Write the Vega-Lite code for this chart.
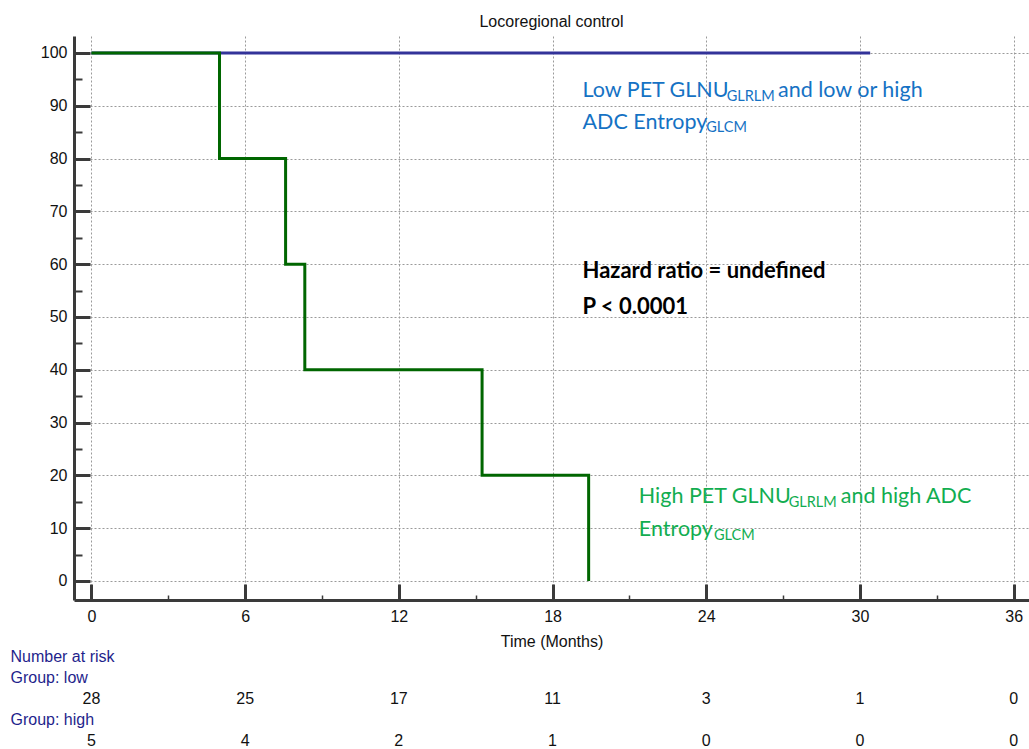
{
  "$schema": "https://vega.github.io/schema/vega-lite/v6.json",
  "padding": {"left": 10, "top": 14, "right": 0, "bottom": 0},
  "bounds": "flush",
  "spacing": 46,
  "config": {
    "view": {"stroke": null},
    "font": "Liberation Sans",
    "axis": {
      "domainColor": "#3a3a3a",
      "domainWidth": 3,
      "tickColor": "#3a3a3a",
      "gridColor": "#9a9a9a",
      "gridDash": [2, 2],
      "gridWidth": 1,
      "labelFont": "Liberation Sans",
      "labelFontSize": 16,
      "labelColor": "#111111",
      "titleFont": "Liberation Sans",
      "titleFontSize": 16,
      "titleFontWeight": "normal",
      "titleColor": "#111111"
    }
  },
  "resolve": {"scale": {"x": "independent", "y": "independent"}},
  "datasets": {
    "survival": [
      {"group": "low", "months": 0, "pct": 100},
      {"group": "low", "months": 30.4, "pct": 100},
      {"group": "high", "months": 0, "pct": 100},
      {"group": "high", "months": 5.0, "pct": 80},
      {"group": "high", "months": 7.58, "pct": 60},
      {"group": "high", "months": 8.33, "pct": 40},
      {"group": "high", "months": 15.25, "pct": 20},
      {"group": "high", "months": 19.41, "pct": 0}
    ],
    "notes": [
      {"kind": "low", "label": "Low PET GLNU", "months": 19.17, "pct": 91.7},
      {"kind": "low-sub", "label": "GLRLM", "months": 24.8, "pct": 90.9},
      {"kind": "low", "label": "and low or high", "months": 26.8, "pct": 91.7},
      {"kind": "low", "label": "ADC Entropy", "months": 19.17, "pct": 85.6},
      {"kind": "low-sub", "label": "GLCM", "months": 24.0, "pct": 85.0},
      {"kind": "stat", "label": "Hazard ratio = undefined", "months": 19.17, "pct": 57.4},
      {"kind": "stat", "label": "P < 0.0001", "months": 19.17, "pct": 50.5},
      {"kind": "high", "label": "High PET GLNU", "months": 21.37, "pct": 14.8},
      {"kind": "high-sub", "label": "GLRLM", "months": 27.22, "pct": 14.0},
      {"kind": "high", "label": "and high ADC", "months": 29.25, "pct": 14.8},
      {"kind": "high", "label": "Entropy", "months": 21.37, "pct": 8.5},
      {"kind": "high-sub", "label": "GLCM", "months": 24.3, "pct": 7.7}
    ],
    "atrisk": [
      {"row": "low", "months": 0, "n": 28},
      {"row": "low", "months": 6, "n": 25},
      {"row": "low", "months": 12, "n": 17},
      {"row": "low", "months": 18, "n": 11},
      {"row": "low", "months": 24, "n": 3},
      {"row": "low", "months": 30, "n": 1},
      {"row": "low", "months": 36, "n": 0},
      {"row": "high", "months": 0, "n": 5},
      {"row": "high", "months": 6, "n": 4},
      {"row": "high", "months": 12, "n": 2},
      {"row": "high", "months": 18, "n": 1},
      {"row": "high", "months": 24, "n": 0},
      {"row": "high", "months": 30, "n": 0},
      {"row": "high", "months": 36, "n": 0}
    ]
  },
  "vconcat": [
    {
      "width": 955,
      "height": 564,
      "title": {
        "text": "Locoregional control",
        "font": "Liberation Sans",
        "fontSize": 16,
        "fontWeight": "normal",
        "color": "#111111",
        "offset": 6
      },
      "encoding": {
        "x": {
          "field": "months",
          "type": "quantitative",
          "scale": {"domain": [-0.68, 36.6], "nice": false, "zero": false},
          "axis": {
            "title": "Time (Months)",
            "titlePadding": -2,
            "values": [0, 3, 6, 9, 12, 15, 18, 21, 24, 27, 30, 33, 36],
            "labelExpr": "datum.value % 6 === 0 ? datum.label : ''",
            "labelPadding": 24,
            "labelFlush": false,
            "labelOverlap": false,
            "grid": true,
            "gridOpacity": {"condition": {"test": "datum.value % 6 === 0", "value": 1}, "value": 0},
            "tickSize": {"condition": {"test": "datum.value % 6 === 0", "value": -16}, "value": -5},
            "tickWidth": {"condition": {"test": "datum.value % 6 === 0", "value": 3}, "value": 1.5}
          }
        },
        "y": {
          "field": "pct",
          "type": "quantitative",
          "scale": {"domain": [-3.6, 103.2], "nice": false, "zero": false},
          "axis": {
            "title": null,
            "values": [0, 5, 10, 15, 20, 25, 30, 35, 40, 45, 50, 55, 60, 65, 70, 75, 80, 85, 90, 95, 100],
            "labelExpr": "datum.value % 10 === 0 ? datum.label : ''",
            "labelPadding": 23,
            "labelOverlap": false,
            "grid": true,
            "gridOpacity": {"condition": {"test": "datum.value % 10 === 0", "value": 1}, "value": 0},
            "tickSize": {"condition": {"test": "datum.value % 10 === 0", "value": -16}, "value": -8},
            "tickWidth": {"condition": {"test": "datum.value % 10 === 0", "value": 3}, "value": 2}
          }
        }
      },
      "layer": [
        {
          "data": {"name": "survival"},
          "transform": [{"filter": "datum.group === 'low'"}],
          "mark": {"type": "line", "interpolate": "step-after", "strokeWidth": 3, "color": "#333399"}
        },
        {
          "data": {"name": "survival"},
          "transform": [{"filter": "datum.group === 'high'"}],
          "mark": {"type": "line", "interpolate": "step-after", "strokeWidth": 3, "color": "#006600"}
        },
        {
          "data": {"name": "notes"},
          "transform": [{"filter": "datum.kind === 'low'"}],
          "mark": {"type": "text", "align": "left", "baseline": "alphabetic", "font": "Lato", "fontSize": 21.5, "color": "#1572C4"},
          "encoding": {"text": {"field": "label"}}
        },
        {
          "data": {"name": "notes"},
          "transform": [{"filter": "datum.kind === 'low-sub'"}],
          "mark": {"type": "text", "align": "left", "baseline": "alphabetic", "font": "Lato", "fontSize": 14.5, "color": "#1572C4"},
          "encoding": {"text": {"field": "label"}}
        },
        {
          "data": {"name": "notes"},
          "transform": [{"filter": "datum.kind === 'high'"}],
          "mark": {"type": "text", "align": "left", "baseline": "alphabetic", "font": "Lato", "fontSize": 21.5, "color": "#12AD50"},
          "encoding": {"text": {"field": "label"}}
        },
        {
          "data": {"name": "notes"},
          "transform": [{"filter": "datum.kind === 'high-sub'"}],
          "mark": {"type": "text", "align": "left", "baseline": "alphabetic", "font": "Lato", "fontSize": 14.5, "color": "#12AD50"},
          "encoding": {"text": {"field": "label"}}
        },
        {
          "data": {"name": "notes"},
          "transform": [{"filter": "datum.kind === 'stat'"}],
          "mark": {"type": "text", "align": "left", "baseline": "alphabetic", "font": "Lato", "fontSize": 22, "fontWeight": "bold", "color": "#000000"},
          "encoding": {"text": {"field": "label"}}
        }
      ]
    },
    {
      "width": 955,
      "height": 105,
      "data": {"name": "atrisk"},
      "mark": {"type": "text", "align": "center", "baseline": "middle", "font": "Liberation Sans", "fontSize": 16, "color": "#111111"},
      "encoding": {
        "x": {
          "field": "months",
          "type": "quantitative",
          "scale": {"domain": [-0.68, 36.6], "nice": false, "zero": false},
          "axis": null
        },
        "y": {
          "field": "row",
          "type": "nominal",
          "scale": {
            "domain": ["Number at risk", "Group: low", "low", "Group: high", "high"],
            "paddingInner": 0,
            "paddingOuter": 0
          },
          "axis": {
            "title": null,
            "domain": false,
            "ticks": false,
            "grid": false,
            "labelAlign": "left",
            "labelBaseline": "middle",
            "labelPadding": 64,
            "labelColor": "#1F1F8C",
            "labelExpr": "datum.value === 'low' || datum.value === 'high' ? '' : datum.label"
          }
        },
        "text": {"field": "n", "type": "quantitative"}
      }
    }
  ]
}
